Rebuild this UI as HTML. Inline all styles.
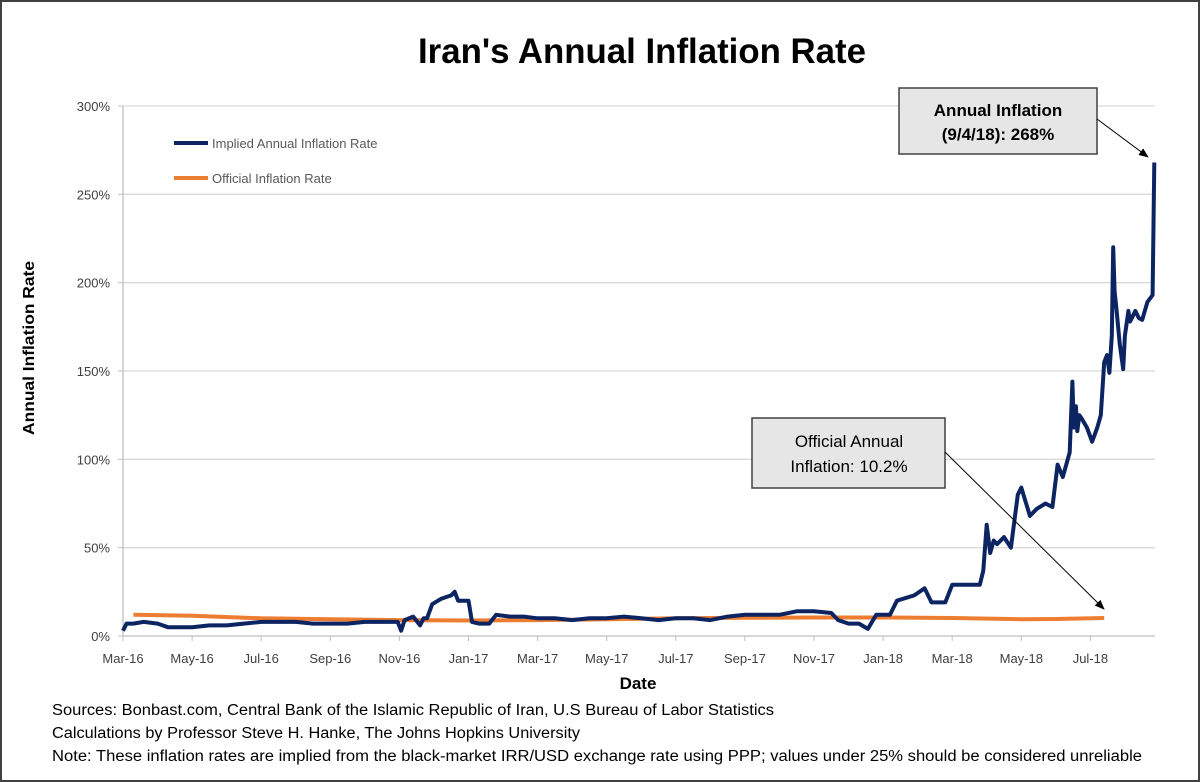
<!DOCTYPE html>
<html><head><meta charset="utf-8"><style>
html,body{margin:0;padding:0;background:#fff}
svg{display:block;font-family:"Liberation Sans",sans-serif}
</style></head><body>
<svg id="chart" width="1200" height="782" viewBox="0 0 1200 782">
<defs>
<marker id="ah" markerWidth="10" markerHeight="8" refX="9" refY="4" orient="auto" markerUnits="userSpaceOnUse"><path d="M0,0 L10,4 L0,8 z" fill="#000"/></marker>
</defs>
<rect x="1" y="1" width="1198" height="780" fill="#fff" stroke="#404040" stroke-width="2"/>
<text x="642" y="63" text-anchor="middle" font-size="35" font-weight="bold" textLength="448" lengthAdjust="spacingAndGlyphs">Iran's Annual Inflation Rate</text>
<g id="grid"></g>
<g id="yticks"></g>
<g id="xticks"></g>
<text transform="translate(34,348) rotate(-90)" text-anchor="middle" font-size="16" font-weight="bold" textLength="174" lengthAdjust="spacingAndGlyphs">Annual Inflation Rate</text>
<text x="638" y="689" text-anchor="middle" font-size="17" font-weight="bold">Date</text>
<path id="official" fill="none" stroke="#ED7D31" stroke-width="4" stroke-linejoin="round"/>
<path id="implied" fill="none" stroke="#0C2461" stroke-width="4" stroke-linejoin="round"/>
<g>
<line x1="174" y1="143" x2="208" y2="143" stroke="#0C2461" stroke-width="4"/>
<text x="212" y="148" font-size="13" fill="#595959">Implied Annual Inflation Rate</text>
<line x1="174" y1="178" x2="208" y2="178" stroke="#ED7D31" stroke-width="4"/>
<text x="212" y="183" font-size="13" fill="#595959">Official Inflation Rate</text>
</g>
<g>
<rect x="899" y="88" width="198" height="66" fill="#E7E6E6" stroke="#404040" stroke-width="1.5"/>
<text x="998" y="116" text-anchor="middle" font-size="17" font-weight="bold">Annual Inflation</text>
<text x="998" y="140" text-anchor="middle" font-size="17" font-weight="bold">(9/4/18): 268%</text>
<line x1="1097" y1="119" x2="1148" y2="157" stroke="#000" stroke-width="1" marker-end="url(#ah)"/>
</g>
<g>
<rect x="752" y="418" width="193" height="70" fill="#E7E6E6" stroke="#404040" stroke-width="1.5"/>
<text x="849" y="447" text-anchor="middle" font-size="17">Official Annual</text>
<text x="849" y="472" text-anchor="middle" font-size="17">Inflation: 10.2%</text>
<line x1="945" y1="452" x2="1104" y2="609" stroke="#000" stroke-width="1" marker-end="url(#ah)"/>
</g>
<g font-size="15.5">
<text x="52" y="715" textLength="722" lengthAdjust="spacingAndGlyphs">Sources: Bonbast.com, Central Bank of the Islamic Republic of Iran, U.S Bureau of Labor Statistics</text>
<text x="52" y="738" textLength="528" lengthAdjust="spacingAndGlyphs">Calculations by Professor Steve H. Hanke, The Johns Hopkins University</text>
<text x="52" y="761" textLength="1090" lengthAdjust="spacingAndGlyphs">Note: These inflation rates are implied from the black-market IRR/USD exchange rate using PPP; values under 25% should be considered unreliable</text>
</g>
</svg>
<script>
const yTicks=[0,50,100,150,200,250,300];
const xLabels=["Mar-16","May-16","Jul-16","Sep-16","Nov-16","Jan-17","Mar-17","May-17","Jul-17","Sep-17","Nov-17","Jan-18","Mar-18","May-18","Jul-18"];
const impliedMonths=[0,0.1,0.3,0.6,1,1.3,1.6,2,2.5,3,3.5,4,4.5,5,5.5,6,6.5,7,7.5,7.95,8.05,8.15,8.4,8.6,8.7,8.8,8.95,9.2,9.5,9.6,9.7,10,10.1,10.3,10.6,10.8,11.2,11.6,12,12.5,13,13.5,14,14.5,15,15.5,16,16.5,17,17.5,18,18.5,19,19.5,20,20.5,20.7,21,21.3,21.56,21.8,22.2,22.4,22.9,23.2,23.4,23.8,24.0,24.8,24.9,25.0,25.1,25.2,25.3,25.5,25.7,25.9,26.0,26.25,26.45,26.7,26.9,27.05,27.2,27.4,27.48,27.52,27.58,27.62,27.68,27.75,27.9,28.05,28.2,28.3,28.4,28.48,28.55,28.62,28.66,28.7,28.75,28.85,28.95,29.0,29.1,29.15,29.2,29.3,29.4,29.5,29.65,29.8,29.85];
const impliedValues=[3,7,7,8,7,5,5,5,6,6,7,8,8,8,7,7,7,8,8,8,3,9,11,6,10,10,18,21,23,25,20,20,8,7,7,12,11,11,10,10,9,10,10,11,10,9,10,10,9,11,12,12,12,14,14,13,9,7,7,4,12,12,20,23,27,19,19,29,29,37,63,47,54,52,56,50,80,84,68,72,75,73,97,90,104,144,118,130,116,125,123,118,110,118,125,155,159,149,170,220,195,186,165,151,170,184,178,180,184,180,179,189,193,268];
const officialMonths=[0.3,2,4,6,8,10,12,14,16,18,20,22,24,26,27,28.4];
const officialValues=[12,11.5,10,9.5,9,8.8,9,9.5,10,10.3,10.5,10.5,10.2,9.5,9.6,10.2];
const X0=123,MONTH=34.55,Y0=636,PERPCT=(636-106)/300;
const xs=m=>X0+m*MONTH, ys=v=>Y0-v*PERPCT;
const NS="http://www.w3.org/2000/svg";
const grid=document.getElementById('grid'),yt=document.getElementById('yticks'),xt=document.getElementById('xticks');
yTicks.forEach(v=>{
  const y=ys(v);
  if(v>0){const l=document.createElementNS(NS,'line');
  
  
  l.setAttribute('x1',X0);l.setAttribute('x2',1155);l.setAttribute('y1',y);l.setAttribute('y2',y);
  l.setAttribute('stroke','#D9D9D9');l.setAttribute('stroke-width','1.3');grid.appendChild(l);}
  const t=document.createElementNS(NS,'line');
  
  
  t.setAttribute('x1',118);t.setAttribute('x2',X0);t.setAttribute('y1',y);t.setAttribute('y2',y);t.setAttribute('stroke','#BFBFBF');yt.appendChild(t);
  const tx=document.createElementNS(NS,'text');
  
  
  tx.setAttribute('x',110);tx.setAttribute('y',y+5);tx.setAttribute('text-anchor','end');tx.setAttribute('font-size','13');tx.setAttribute('fill','#404040');
  tx.textContent=v+'%';yt.appendChild(tx);
});
const ax=document.createElementNS(NS,'line');


ax.setAttribute('x1',X0);ax.setAttribute('x2',X0);ax.setAttribute('y1',ys(300));ax.setAttribute('y2',Y0);ax.setAttribute('stroke','#BFBFBF');ax.setAttribute('stroke-width','1.3');yt.appendChild(ax);
const bx=document.createElementNS(NS,'line');


bx.setAttribute('x1',X0);bx.setAttribute('x2',1155);bx.setAttribute('y1',Y0);bx.setAttribute('y2',Y0);bx.setAttribute('stroke','#BFBFBF');bx.setAttribute('stroke-width','1.3');xt.appendChild(bx);
xLabels.forEach((s,i)=>{
  const x=xs(i*2);
  const t=document.createElementNS(NS,'line');
  
  
  t.setAttribute('x1',x);t.setAttribute('x2',x);t.setAttribute('y1',Y0);t.setAttribute('y2',Y0+5);t.setAttribute('stroke','#BFBFBF');xt.appendChild(t);
  const tx=document.createElementNS(NS,'text');
  
  
  tx.setAttribute('x',x);tx.setAttribute('y',Y0+27);tx.setAttribute('text-anchor','middle');tx.setAttribute('font-size','13');tx.setAttribute('fill','#404040');
  tx.textContent=s;xt.appendChild(tx);
});
const path=(ms,vs)=>ms.map((m,i)=>(i?'L':'M')+xs(m).toFixed(1)+','+ys(vs[i]).toFixed(1)).join(' ');
document.getElementById('implied').setAttribute('d',path(impliedMonths,impliedValues));
document.getElementById('official').setAttribute('d',path(officialMonths,officialValues));
</script>
</body></html>
